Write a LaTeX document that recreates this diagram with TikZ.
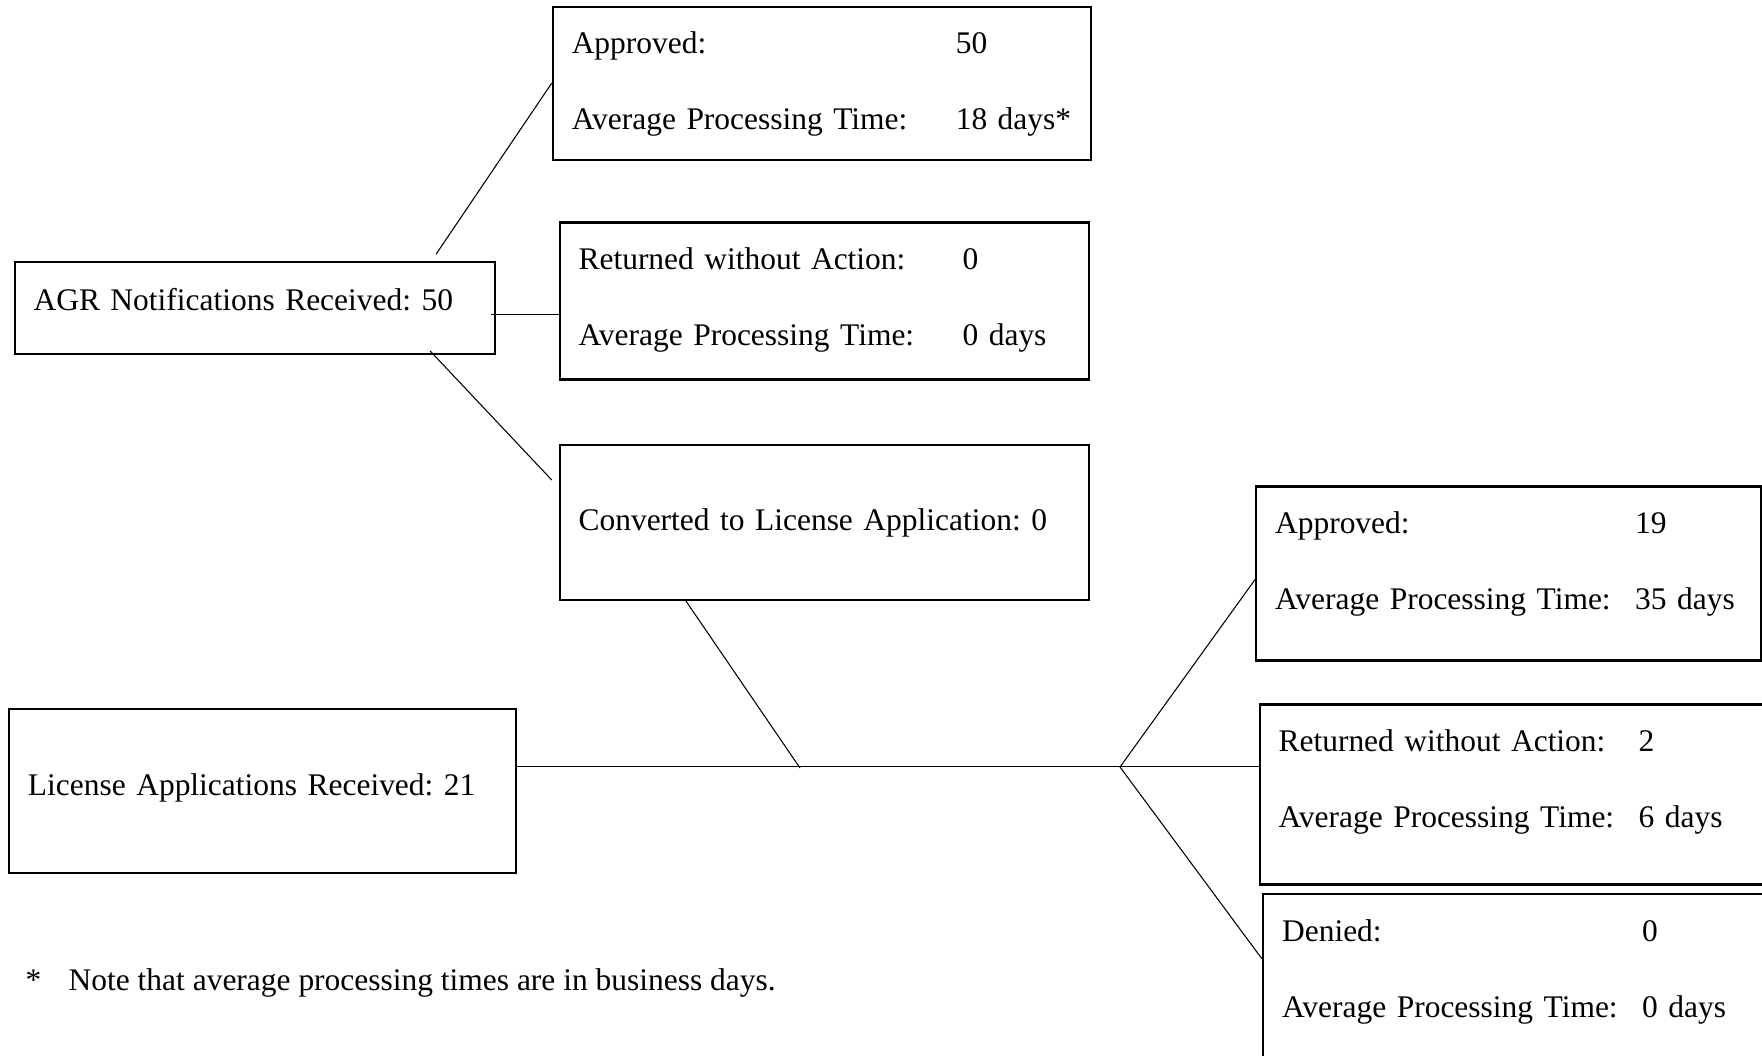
\documentclass[tikz,border=0pt]{standalone}
\usepackage{fontspec}
\setmainfont{Liberation Serif}
\newcommand\px{0.375pt}
\begin{document}
\frenchspacing
\begin{tikzpicture}[x=\px,y=-\px,font=\fontsize{11.8}{14}\selectfont,
  countbox/.style 2 args={draw,line width=0.8pt,anchor=north west,inner xsep=0pt,inner ysep=0pt,
    minimum width=#1*\px,minimum height=#2*\px,text width=(#1-38)*\px,align=left},
  pairbox/.style 2 args={countbox={#1}{#2},text height=47*\px,text depth=(#2-47)*\px},
  link/.style={line width=0.4pt}]
\useasboundingbox (0,0) rectangle (1762,1055);
\clip (0,0) rectangle (1762,1055);
\node[countbox={480}{92},text height=49*\px,text depth=43*\px] (agr) at (13.5,260.7) {AGR Notifications Received: 50};
\node[pairbox={538}{153}] (apr) at (551.7,5.6) {\begin{tabular}[t]{@{}p{144pt}@{}l@{}}Approved: & 50\\[14.6pt] Average Processing Time: & 18 days*\end{tabular}};
\node[pairbox={529}{157}] (ret) at (558.5,221.4) {\begin{tabular}[t]{@{}p{144pt}@{}l@{}}Returned without Action: & 0\\[14.6pt] Average Processing Time: & 0 days\end{tabular}};
\node[countbox={529}{155}] (conv) at (558.5,443.9) {Converted to License Application: 0};
\node[countbox={507}{164},text height=86*\px,text depth=78*\px] (lic) at (7.9,708) {License Applications Received: 21};
\node[pairbox={505}{174}] (lapr) at (1255,485.4) {\begin{tabular}[t]{@{}p{135pt}@{}l@{}}Approved: & 19\\[14.6pt] Average Processing Time: & 35 days\end{tabular}};
\node[pairbox={520}{180}] (lret) at (1258.5,703.4) {\begin{tabular}[t]{@{}p{135pt}@{}l@{}}Returned without Action: & 2\\[14.6pt] Average Processing Time: & 6 days\end{tabular}};
\node[pairbox={520}{177}] (lden) at (1262,893.3) {\begin{tabular}[t]{@{}p{135pt}@{}l@{}}Denied: & 0\\[14.6pt] Average Processing Time: & 0 days\end{tabular}};
\node[anchor=base west,inner sep=0pt] (note) at (25,990) {*\hspace{10.3pt}Note that average processing times are in business days.};
\coordinate (j1) at (800,768);
\coordinate (j2) at (1120,767);
\draw[link] ([xshift=-22.3pt,yshift=2.5pt]agr.north east) -- (apr.west);
\draw[link] ([xshift=-1.7pt,yshift=-2.4pt]agr.east) -- ([yshift=-2.4pt]agr.east -| ret.west);
\draw[link] ([xshift=-24.6pt,yshift=1.5pt]agr.south east) -- ([xshift=-2.5pt,yshift=15.9pt]conv.west);
\draw[link] ([xshift=47.8pt]conv.south west) -- (j1);
\draw[link] ([yshift=9.2pt]lic.east) -- ([yshift=9.2pt]lic.east -| lret.west);
\draw[link] (j2) -- ([yshift=-2.3pt]lapr.west);
\draw[link] (j2) -- ([yshift=-24.6pt]lden.north west);
\end{tikzpicture}
\end{document}
